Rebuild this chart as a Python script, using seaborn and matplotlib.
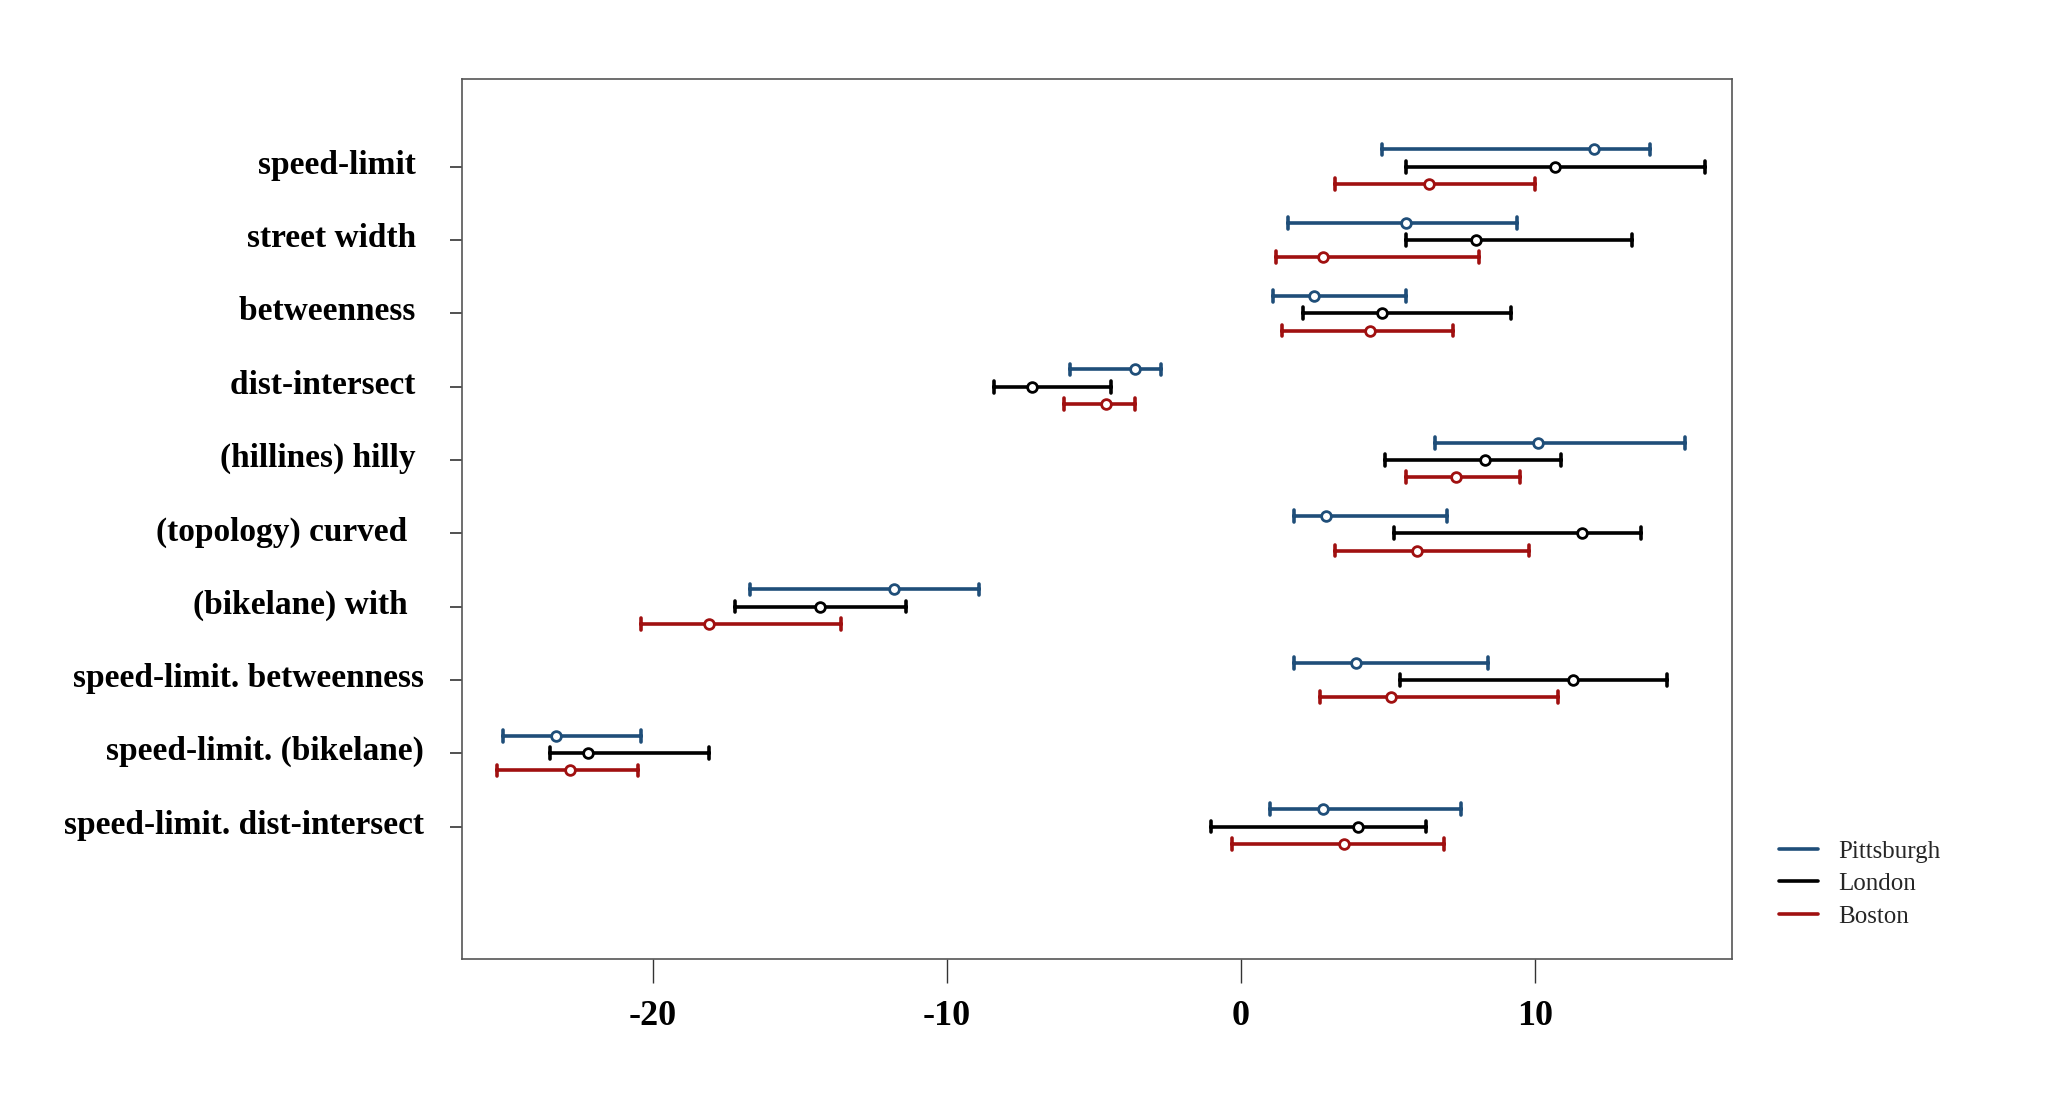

# coefficient intervals per city, drawn as horizontal point + interval plot
import pandas as pd
import matplotlib
matplotlib.use('Agg')
import matplotlib.pyplot as plt
import matplotlib.transforms as mtransforms
from matplotlib.lines import Line2D
import seaborn as sns

# data
features = ['speed-limit ', 'street width ', 'betweenness ', 'dist-intersect ',
            '(hillines) hilly ', '(topology) curved  ', '(bikelane) with  ',
            'speed-limit. betweenness', 'speed-limit. (bikelane)',
            'speed-limit. dist-intersect']
cities = ['Pittsburgh', 'London', 'Boston']

pitt_low = [4.8, 1.6, 1.1, -5.8, 6.6, 1.8, -16.7, 1.8, -25.1, 1.0]
pitt_mid = [12.0, 5.6, 2.5, -3.6, 10.1, 2.9, -11.8, 3.9, -23.3, 2.8]
pitt_high = [13.9, 9.4, 5.6, -2.7, 15.1, 7.0, -8.9, 8.4, -20.4, 7.5]

lond_low = [5.6, 5.6, 2.1, -8.4, 4.9, 5.2, -17.2, 5.4, -23.5, -1.0]
lond_mid = [10.7, 8.0, 4.8, -7.1, 8.3, 11.6, -14.3, 11.3, -22.2, 4.0]
lond_high = [15.8, 13.3, 9.2, -4.4, 10.9, 13.6, -11.4, 14.5, -18.1, 6.3]

bost_low = [3.2, 1.2, 1.4, -6.0, 5.6, 3.2, -20.4, 2.7, -25.3, -0.3]
bost_mid = [6.4, 2.8, 4.4, -4.6, 7.3, 6.0, -18.1, 5.1, -22.8, 3.5]
bost_high = [10.0, 8.1, 7.2, -3.6, 9.5, 9.8, -13.6, 10.8, -20.5, 6.9]

colors = ['#1f4e79', '#000000', '#a01010']

# long table: low / mid / high for each feature and city
rows = []
for city, lo, mid, hi in [('Pittsburgh', pitt_low, pitt_mid, pitt_high),
                          ('London', lond_low, lond_mid, lond_high),
                          ('Boston', bost_low, bost_mid, bost_high)]:
    for f, a, b, c in zip(features, lo, mid, hi):
        for v in (a, b, c):
            rows.append({'feature': f, 'city': city, 'value': v})
df = pd.DataFrame(rows)

sns.set_theme(style='white')
plt.rcParams['font.family'] = ['Liberation Serif', 'DejaVu Serif']
plt.rcParams['axes.unicode_minus'] = False

fig = plt.figure(figsize=(20.52, 10.93), dpi=100)
ax = fig.add_axes([0.225, 0.123, 0.619, 0.805])

sns.pointplot(data=df, x='value', y='feature', hue='city', order=features,
              hue_order=cities, palette=colors, estimator='median',
              errorbar=lambda v: (v.min(), v.max()), dodge=0.47,
              linestyle='none', marker='o', capsize=0.16, err_kws={'linewidth': 2.6},
              markersize=7, markeredgewidth=2, ax=ax, legend=False)

# open circles on top of the intervals
for ln in ax.lines:
    if ln.get_marker() not in (None, 'None', '', ' '):
        ln.set_markerfacecolor('white')
        ln.set_zorder(5)

ax.set_xlim(-26.5, 16.7)
ax.set_ylim(10.8, -1.2)
ax.set_xticks([-20, -10, 0, 10])
ax.set_xlabel('')
ax.set_ylabel('')
ax.tick_params(axis='x', bottom=True, length=17, width=1, color='#333333',
               pad=13, labelsize=26, labelcolor='black')
ax.tick_params(axis='y', left=True, length=9, width=1.2, color='#333333',
               pad=18, labelsize=24, labelcolor='black')
for lab in ax.get_xticklabels() + ax.get_yticklabels():
    lab.set_fontweight('bold')
# row labels sit a little above their ticks
shift = mtransforms.ScaledTranslation(0, 0.05, fig.dpi_scale_trans)
for lab in ax.get_yticklabels():
    lab.set_transform(lab.get_transform() + shift)
for s in ax.spines.values():
    s.set_color('#555555')
    s.set_linewidth(1.2)

handles = [Line2D([], [], color=c, lw=2.6) for c in colors]
fig.legend(handles, cities, loc='upper left', bbox_to_anchor=(0.856, 0.252),
           frameon=False, fontsize=18, handlelength=1.55, labelspacing=0.4)

fig.savefig('out.png', dpi=100)
